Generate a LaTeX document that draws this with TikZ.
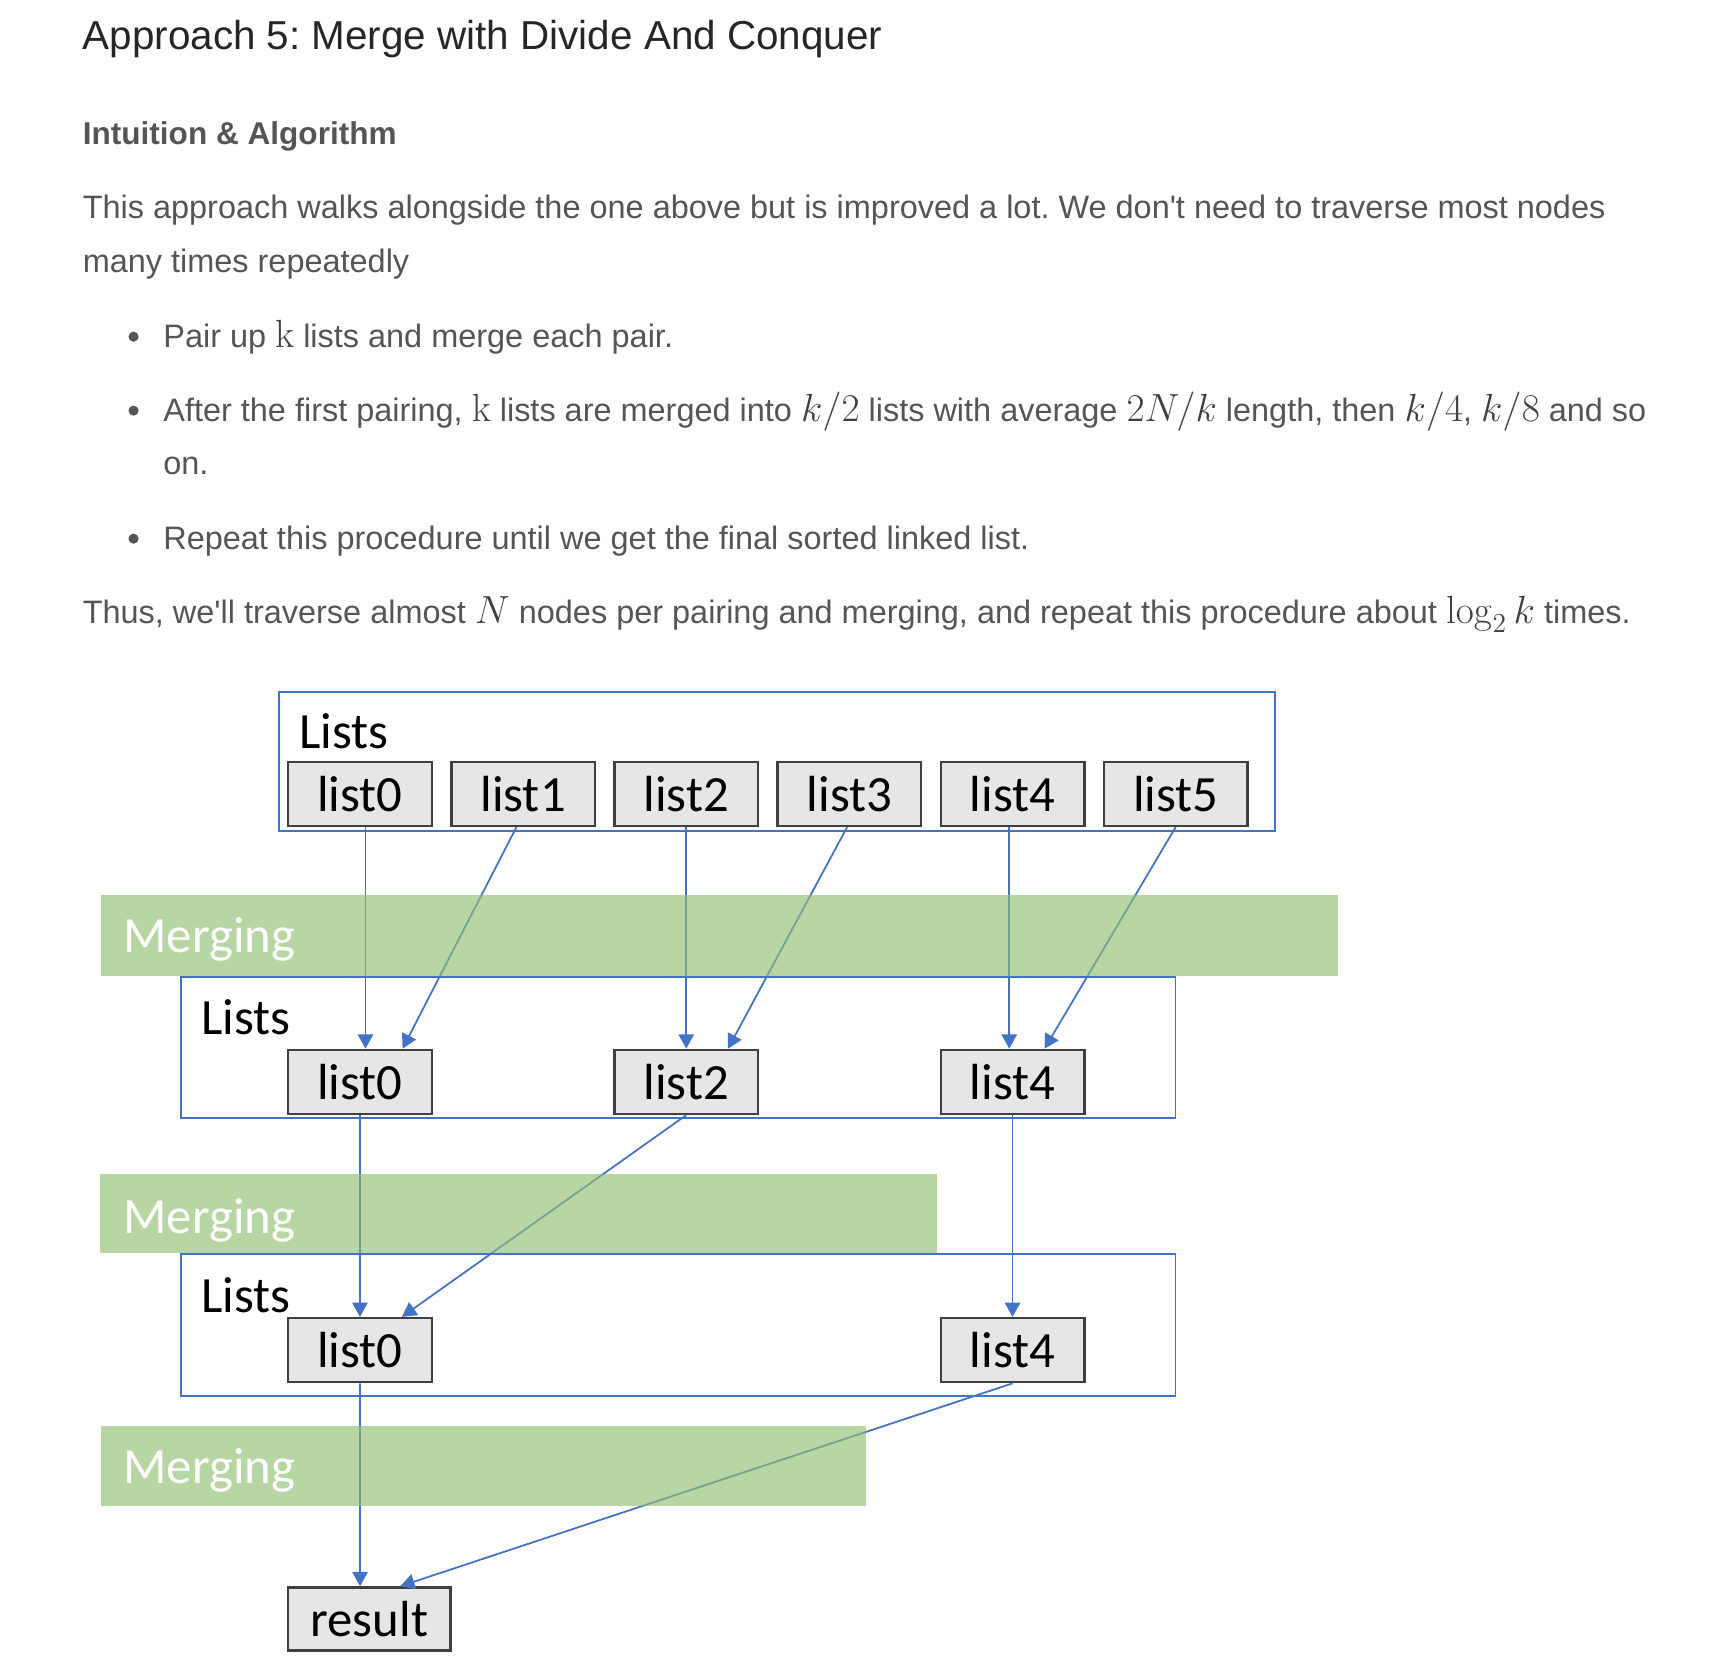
\RequirePackage{fix-cm}
\documentclass[tikz,border=0pt]{standalone}
\usepackage[no-math]{fontspec}
\newfontfamily\bodyfont{Liberation Sans}
\newfontfamily\dgfont{Carlito}
\usetikzlibrary{arrows.meta}
\definecolor{bodytext}{HTML}{555555}
\definecolor{mathtext}{HTML}{404040}
\definecolor{titletext}{HTML}{262626}
\definecolor{boxblue}{HTML}{4472C4}
\definecolor{bandgreen}{RGB}{146,190,115}
\definecolor{cellgray}{HTML}{E7E6E6}
\definecolor{cellline}{HTML}{404040}
\newcommand\mth[1]{{\fontsize{17.8}{20}\selectfont\color{mathtext}$#1$}}
\frenchspacing
\tikzset{
  txt/.style={anchor=base west, inner sep=0pt, outer sep=0pt, text=bodytext,
    font=\bodyfont\fontsize{14.7}{17}\selectfont\frenchspacing},
  bul/.style={circle, fill=bodytext, inner sep=0pt, minimum size=4.6pt},
  listsbox/.style={draw=boxblue, line width=0.9pt, fill=white, anchor=north west, inner sep=0pt},
  band/.style={fill=bandgreen, fill opacity=0.65, draw=none, anchor=north west, inner sep=0pt},
  cell/.style={draw=cellline, fill=cellgray, line width=1.1pt, anchor=north west,
    minimum width=65pt, minimum height=29pt, inner sep=0pt,
    font=\dgfont\fontsize{23}{27}\selectfont},
  dglabel/.style={anchor=base west, inner sep=0pt, font=\dgfont\fontsize{23}{27}\selectfont},
  arr/.style={draw=boxblue, line width=0.8pt, -{Triangle[length=6.5pt,width=7pt]}}
}
\begin{document}
\begin{tikzpicture}[x=0.5pt, y=-0.5pt]
\useasboundingbox (0,0) rectangle (1560,1509.3);

% ---------- text ----------
\node[txt, text=titletext, font=\bodyfont\fontsize{18.3}{22}\selectfont\frenchspacing] (title) at (75,45) {Approach 5: Merge with Divide And Conquer};
\node[txt, font=\bodyfont\bfseries\fontsize{14.3}{17}\selectfont] (head) at (75,131) {Intuition \& Algorithm};
\node[txt] (p1) at (75,198) {This approach walks alongside the one above but is improved a lot. We don't need to traverse most nodes};
\node[txt] (p2) at (75,247) {many times repeatedly};
\node[bul] (b1) at (121,305) {};
\node[txt] (l1) at (148,315) {Pair up \mth{\mathrm{k}} lists and merge each pair.};
\node[bul] (b2) at (121,372) {};
\node[txt] (l2) at (148,382) {After the first pairing, \mth{\mathrm{k}} lists are merged into \mth{k/2} lists with average \mth{2N/k} length, then \mth{k/4}, \mth{k/8} and so};
\node[txt] (l2b) at (148,430) {on.};
\node[bul] (b3) at (121,488) {};
\node[txt] (l3) at (148,498) {Repeat this procedure until we get the final sorted linked list.};
\node[txt] (p3) at (75,565) {Thus, we'll traverse almost \mth{N} nodes per pairing and merging, and repeat this procedure about \mth{\log_2 k} times.};

% ---------- outer Lists boxes ----------
\node[listsbox, minimum width=451.5pt, minimum height=63pt] (box1) at (251.5,626) {};
\node[listsbox, minimum width=450.5pt, minimum height=63.7pt] (box2) at (163,884.6) {};
\node[listsbox, minimum width=450.5pt, minimum height=64.1pt] (box3) at (163,1135.3) {};
\node[dglabel] (lists1) at (271,678) {Lists};
\node[dglabel] (lists2) at (182,937) {Lists};
\node[dglabel] (lists3) at (182,1189) {Lists};

% ---------- cells ----------
\node[cell] (a0) at (260,689) {list0};
\node[cell] (a1) at (407.8,689) {list1};
\node[cell] (a2) at (555.6,689) {list2};
\node[cell] (a3) at (703.4,689) {list3};
\node[cell] (a4) at (851.2,689) {list4};
\node[cell] (a5) at (999,689) {list5};
\node[cell] (b0) at (260,950) {list0};
\node[cell] (b2) at (555.6,950) {list2};
\node[cell] (b4) at (851.2,950) {list4};
\node[cell] (c0) at (260,1193) {list0};
\node[cell] (c4) at (851.2,1193) {list4};
\node[cell, minimum width=73.5pt, minimum height=28.5pt] (r) at (260,1437) {result};

% ---------- arrows ----------
\draw[arr] ([xshift=2.5pt]a0.south) -- ([xshift=2.5pt]b0.north);
\draw[arr] ([xshift=-3pt]a1.south) -- ([xshift=19.3pt]b0.north);
\draw[arr] (a2.south) -- (b2.north);
\draw[arr] ([xshift=-1pt]a3.south) -- ([xshift=18.9pt]b2.north);
\draw[arr] ([xshift=-1.5pt]a4.south) -- ([xshift=-1.5pt]b4.north);
\draw[arr] (a5.south) -- ([xshift=14.5pt]b4.north);
\draw[arr] (b0.south) -- (c0.north);
\draw[arr] (b2.south) -- ([xshift=19pt]c0.north);
\draw[arr] (b4.south) -- (c4.north);
\draw[arr] (c0.south) -- ([xshift=-4.2pt]r.north);
\draw[arr] (c4.south) -- ([xshift=14pt]r.north);

% ---------- merging bands ----------
\node[band, minimum width=560.5pt, minimum height=36.9pt] (m1) at (91,810) {};
\node[band, minimum width=379.25pt, minimum height=35.4pt] (m2) at (90,1063.5) {};
\node[band, minimum width=346.5pt, minimum height=36pt] (m3) at (91,1291.7) {};
\node[dglabel, text=white] (mt1) at (111.5,863) {Merging};
\node[dglabel, text=white] (mt2) at (111.5,1117) {Merging};
\node[dglabel, text=white] (mt3) at (111.5,1344) {Merging};
\end{tikzpicture}
\end{document}
